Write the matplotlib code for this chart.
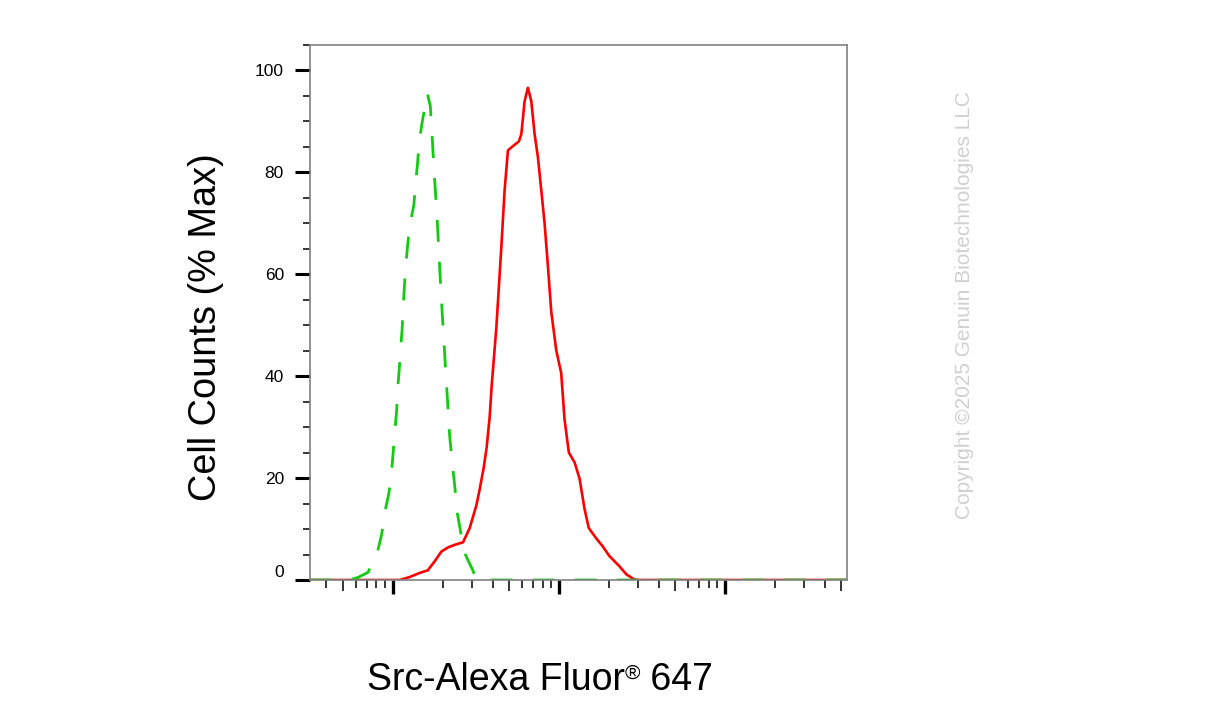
import matplotlib
matplotlib.use("Agg")
import matplotlib.pyplot as plt
from matplotlib.ticker import FixedLocator, NullFormatter

plt.rcParams['font.family'] = ['Liberation Sans', 'DejaVu Sans']
plt.rcParams['lines.scale_dashes'] = False

# ---- data (fluorescence intensity, % of max) ----
red_intensity = [31.8, 110.6, 127.0, 145.9, 162.9, 179.5, 196.9, 215.8, 236.6, 265.5,
                 291.2, 319.6, 334.4, 353.3, 368.3, 384.0, 394.6, 421.4, 451.7, 472.4,
                 494.5, 518.4, 575.9, 595.5, 623.4, 652.1, 683.6, 715.9, 749.3, 785.1,
                 822.0, 860.8, 901.9, 966.0, 1035.0, 1083.9, 1150.7, 1245.5, 1334.2, 1429.0,
                 1516.6, 1679.0, 1839.7, 2018.2, 2317.6, 2553.7, 2851.7, 3054.9, 54330.0]
red_pct = [0, 0, 0.6, 1.4, 1.9, 3.7, 5.6, 6.4, 6.9, 7.4,
           10.2, 14.7, 17.8, 22.0, 26.0, 32.0, 38.0, 49.6, 65.5, 76.5,
           84.3, 84.9, 86.1, 87.5, 94.0, 96.6, 94.0, 87.5, 83.0, 76.5,
           70.0, 61.6, 52.6, 45.1, 40.6, 31.5, 25.0, 23.1, 19.9, 14.0,
           10.2, 8.2, 6.6, 4.7, 2.7, 1.1, 0.1, 0, 0]

green_intensity = [31.8, 55.4, 61.9, 71.1, 80.8, 85.9, 89.9, 95.0, 98.6, 100.8,
                   103.2, 105.7, 107.2, 109.6, 112.1, 114.2, 116.0, 119.0, 123.0, 127.0,
                   134.3, 137.5, 141.3, 144.5, 150.6, 161.9, 168.7, 173.4, 177.9, 182.1,
                   185.9, 189.8, 194.2, 199.1, 206.1, 213.4, 220.9, 231.2, 237.7, 244.4,
                   256.0, 268.9, 285.1, 302.2, 316.2, 329.6, 54330.0]
green_pct = [0, 0, 0.5, 1.5, 5.3, 8.9, 13.4, 17.0, 21.2, 25.0,
             29.3, 33.1, 37.3, 41.2, 45.8, 49.3, 54.0, 60.0, 65.5, 69.7,
             73.6, 77.8, 81.7, 85.9, 89.8, 95.5, 93.0, 86.5, 80.0, 75.0,
             70.3, 64.5, 58.4, 52.2, 44.0, 36.0, 28.0, 21.5, 17.9, 13.4,
             9.7, 5.6, 3.8, 2.1, 0.5, 0, 0]

y_ticks = [0, 20, 40, 60, 80, 100]
y_minor = [5, 10, 15, 25, 30, 35, 45, 50, 55, 65, 70, 75, 85, 90, 95, 105]
x_major = [100, 1000, 10000]
x_minor = [40, 60, 70, 80, 90, 200, 300, 400, 600, 700, 800, 900,
           2000, 3000, 4000, 6000, 7000, 8000, 9000, 20000, 30000, 40000]
x_mid = [50, 500, 5000, 50000]

W, H = 1207, 716
fig = plt.figure(figsize=(W / 100, H / 100), dpi=100)
ax = fig.add_axes([310 / W, 136 / H, 537 / W, 535 / H])

ax.plot(red_intensity, red_pct, color='#ff0000', lw=1.9, solid_joinstyle='round')
ax.plot(green_intensity, green_pct, color='#11cc11', lw=2.0, ls=(0, (15.8, 14.4)))

ax.set_xscale('log')
ax.set_xlim(10 ** 1.503, 10 ** 4.735)
ax.set_ylim(0, 105)

for s in ax.spines.values():
    s.set_color('#808080')
    s.set_linewidth(1.2)

ax.xaxis.set_major_locator(FixedLocator(x_major))
ax.xaxis.set_minor_locator(FixedLocator(x_minor))
ax.xaxis.set_major_formatter(NullFormatter())
ax.xaxis.set_minor_formatter(NullFormatter())
ax.tick_params(axis='x', which='major', length=10, width=2.4, color='black')
ax.tick_params(axis='x', which='minor', length=5.8, width=1.1, color='black')

sec = ax.secondary_xaxis('bottom')
sec.xaxis.set_major_locator(FixedLocator(x_mid))
sec.xaxis.set_minor_locator(FixedLocator([]))
sec.xaxis.set_major_formatter(NullFormatter())
sec.tick_params(axis='x', which='major', length=7.7, width=1.1, color='black')
sec.spines['bottom'].set_visible(False)

ax.yaxis.set_major_locator(FixedLocator(y_ticks))
ax.yaxis.set_minor_locator(FixedLocator(y_minor))
ax.tick_params(axis='y', which='major', length=10.8, width=2.2, color='black',
               labelsize=12.5, pad=8)
ax.tick_params(axis='y', which='minor', length=5, width=1.1, color='black')
ax.set_yticklabels([str(v) for v in y_ticks])
for lab in ax.get_yticklabels():
    if lab.get_text() == '0':
        lab.set_verticalalignment('bottom')

ax.set_ylabel('Cell Counts (% Max)', fontsize=27.3)
ax.yaxis.set_label_coords(-0.160, 0.4735)

# x label with superscript registered mark
fig.canvas.draw()
r = fig.canvas.get_renderer()
yb = (H - 690) / H
fs = 27
t1 = fig.text(0, yb, 'Src-Alexa Fluor', fontsize=fs, va='baseline', ha='left')
t2 = fig.text(0, (H - 664) / H, '\u00ae', fontsize=15, va='top', ha='left')
t3 = fig.text(0, yb, ' 647', fontsize=fs, va='baseline', ha='left')
w1 = t1.get_window_extent(r).width
w2 = t2.get_window_extent(r).width
w3 = t3.get_window_extent(r).width
total = w1 + w2 + w3
x0 = 540 - total / 2
t1.set_x(x0 / W)
t2.set_x((x0 + w1) / W)
t3.set_x((x0 + w1 + w2) / W)

fig.text(965 / W, (H - 305) / H, 'Copyright \u00a92025 Genuin Biotechnologies LLC',
         rotation=90, fontsize=15, color='#d0d0d0', ha='center', va='center')

fig.savefig('out.png', dpi=100)
